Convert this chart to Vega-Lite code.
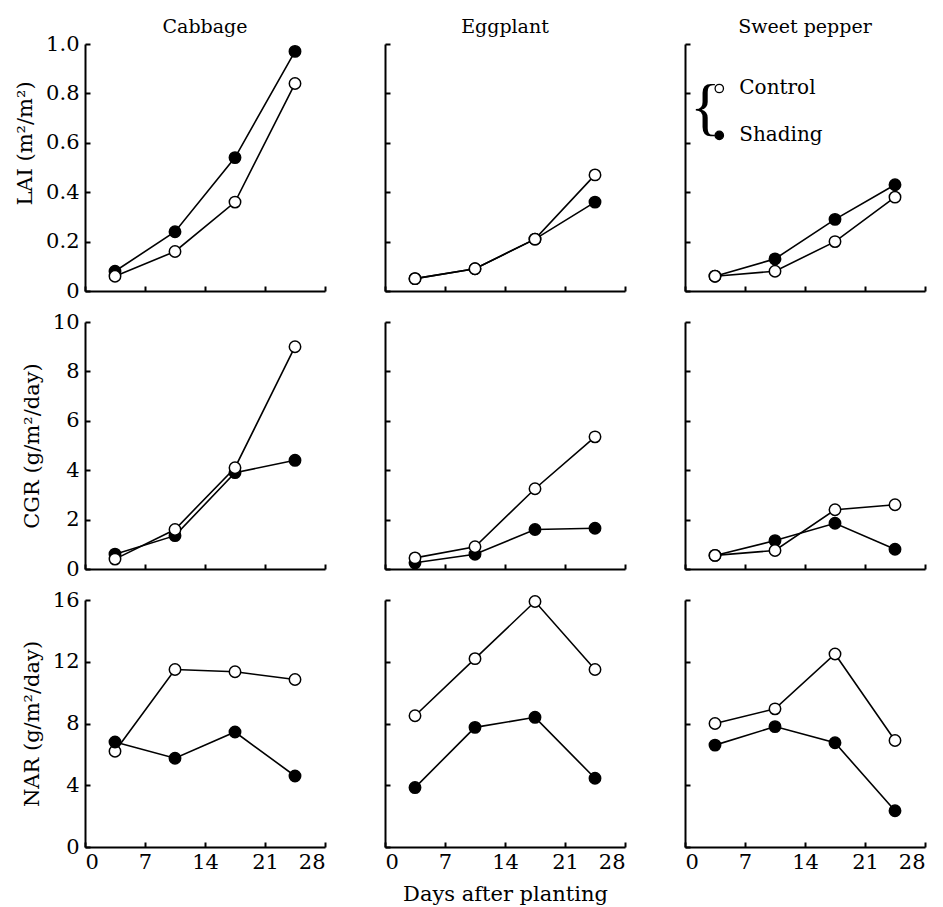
{
 "$schema": "https://vega.github.io/schema/vega-lite/v6.json",
 "background": "white",
 "padding": {"left": 14, "top": 18, "right": 4, "bottom": 2},
 "config": {
  "font": "DejaVu Serif",
  "view": {"stroke": null},
  "axis": {"domainColor": "black", "domainWidth": 2, "tickColor": "black", "tickWidth": 2, "tickSize": -5, "grid": false, "labelFont": "DejaVu Serif", "labelFontSize": 21, "labelColor": "black", "titleFont": "DejaVu Serif", "titleFontSize": 21, "titleFontWeight": "normal", "titleColor": "black"},
  "axisX": {"labelPadding": 9, "titlePadding": 11},
  "axisY": {"labelPadding": 11, "titlePadding": 10},
  "title": {"font": "DejaVu Serif", "fontSize": 19, "fontWeight": "normal", "color": "black", "offset": 6}
 },
 "datasets": {
  "growth": [
   {"crop": "Cabbage", "metric": "LAI", "treatment": "Shading", "day": 3.5, "value": 0.08},
   {"crop": "Cabbage", "metric": "LAI", "treatment": "Shading", "day": 10.5, "value": 0.24},
   {"crop": "Cabbage", "metric": "LAI", "treatment": "Shading", "day": 17.5, "value": 0.54},
   {"crop": "Cabbage", "metric": "LAI", "treatment": "Shading", "day": 24.5, "value": 0.97},
   {"crop": "Cabbage", "metric": "LAI", "treatment": "Control", "day": 3.5, "value": 0.06},
   {"crop": "Cabbage", "metric": "LAI", "treatment": "Control", "day": 10.5, "value": 0.16},
   {"crop": "Cabbage", "metric": "LAI", "treatment": "Control", "day": 17.5, "value": 0.36},
   {"crop": "Cabbage", "metric": "LAI", "treatment": "Control", "day": 24.5, "value": 0.84},
   {"crop": "Eggplant", "metric": "LAI", "treatment": "Shading", "day": 3.5, "value": 0.05},
   {"crop": "Eggplant", "metric": "LAI", "treatment": "Shading", "day": 10.5, "value": 0.09},
   {"crop": "Eggplant", "metric": "LAI", "treatment": "Shading", "day": 17.5, "value": 0.21},
   {"crop": "Eggplant", "metric": "LAI", "treatment": "Shading", "day": 24.5, "value": 0.36},
   {"crop": "Eggplant", "metric": "LAI", "treatment": "Control", "day": 3.5, "value": 0.05},
   {"crop": "Eggplant", "metric": "LAI", "treatment": "Control", "day": 10.5, "value": 0.09},
   {"crop": "Eggplant", "metric": "LAI", "treatment": "Control", "day": 17.5, "value": 0.21},
   {"crop": "Eggplant", "metric": "LAI", "treatment": "Control", "day": 24.5, "value": 0.47},
   {"crop": "Sweet pepper", "metric": "LAI", "treatment": "Shading", "day": 3.5, "value": 0.06},
   {"crop": "Sweet pepper", "metric": "LAI", "treatment": "Shading", "day": 10.5, "value": 0.13},
   {"crop": "Sweet pepper", "metric": "LAI", "treatment": "Shading", "day": 17.5, "value": 0.29},
   {"crop": "Sweet pepper", "metric": "LAI", "treatment": "Shading", "day": 24.5, "value": 0.43},
   {"crop": "Sweet pepper", "metric": "LAI", "treatment": "Control", "day": 3.5, "value": 0.06},
   {"crop": "Sweet pepper", "metric": "LAI", "treatment": "Control", "day": 10.5, "value": 0.08},
   {"crop": "Sweet pepper", "metric": "LAI", "treatment": "Control", "day": 17.5, "value": 0.2},
   {"crop": "Sweet pepper", "metric": "LAI", "treatment": "Control", "day": 24.5, "value": 0.38},
   {"crop": "Cabbage", "metric": "CGR", "treatment": "Shading", "day": 3.5, "value": 0.6},
   {"crop": "Cabbage", "metric": "CGR", "treatment": "Shading", "day": 10.5, "value": 1.35},
   {"crop": "Cabbage", "metric": "CGR", "treatment": "Shading", "day": 17.5, "value": 3.9},
   {"crop": "Cabbage", "metric": "CGR", "treatment": "Shading", "day": 24.5, "value": 4.4},
   {"crop": "Cabbage", "metric": "CGR", "treatment": "Control", "day": 3.5, "value": 0.4},
   {"crop": "Cabbage", "metric": "CGR", "treatment": "Control", "day": 10.5, "value": 1.6},
   {"crop": "Cabbage", "metric": "CGR", "treatment": "Control", "day": 17.5, "value": 4.1},
   {"crop": "Cabbage", "metric": "CGR", "treatment": "Control", "day": 24.5, "value": 9.0},
   {"crop": "Eggplant", "metric": "CGR", "treatment": "Shading", "day": 3.5, "value": 0.25},
   {"crop": "Eggplant", "metric": "CGR", "treatment": "Shading", "day": 10.5, "value": 0.6},
   {"crop": "Eggplant", "metric": "CGR", "treatment": "Shading", "day": 17.5, "value": 1.6},
   {"crop": "Eggplant", "metric": "CGR", "treatment": "Shading", "day": 24.5, "value": 1.65},
   {"crop": "Eggplant", "metric": "CGR", "treatment": "Control", "day": 3.5, "value": 0.45},
   {"crop": "Eggplant", "metric": "CGR", "treatment": "Control", "day": 10.5, "value": 0.9},
   {"crop": "Eggplant", "metric": "CGR", "treatment": "Control", "day": 17.5, "value": 3.25},
   {"crop": "Eggplant", "metric": "CGR", "treatment": "Control", "day": 24.5, "value": 5.35},
   {"crop": "Sweet pepper", "metric": "CGR", "treatment": "Shading", "day": 3.5, "value": 0.55},
   {"crop": "Sweet pepper", "metric": "CGR", "treatment": "Shading", "day": 10.5, "value": 1.15},
   {"crop": "Sweet pepper", "metric": "CGR", "treatment": "Shading", "day": 17.5, "value": 1.85},
   {"crop": "Sweet pepper", "metric": "CGR", "treatment": "Shading", "day": 24.5, "value": 0.8},
   {"crop": "Sweet pepper", "metric": "CGR", "treatment": "Control", "day": 3.5, "value": 0.55},
   {"crop": "Sweet pepper", "metric": "CGR", "treatment": "Control", "day": 10.5, "value": 0.75},
   {"crop": "Sweet pepper", "metric": "CGR", "treatment": "Control", "day": 17.5, "value": 2.4},
   {"crop": "Sweet pepper", "metric": "CGR", "treatment": "Control", "day": 24.5, "value": 2.6},
   {"crop": "Cabbage", "metric": "NAR", "treatment": "Control", "day": 3.5, "value": 6.2},
   {"crop": "Cabbage", "metric": "NAR", "treatment": "Control", "day": 10.5, "value": 11.5},
   {"crop": "Cabbage", "metric": "NAR", "treatment": "Control", "day": 17.5, "value": 11.35},
   {"crop": "Cabbage", "metric": "NAR", "treatment": "Control", "day": 24.5, "value": 10.85},
   {"crop": "Cabbage", "metric": "NAR", "treatment": "Shading", "day": 3.5, "value": 6.8},
   {"crop": "Cabbage", "metric": "NAR", "treatment": "Shading", "day": 10.5, "value": 5.75},
   {"crop": "Cabbage", "metric": "NAR", "treatment": "Shading", "day": 17.5, "value": 7.45},
   {"crop": "Cabbage", "metric": "NAR", "treatment": "Shading", "day": 24.5, "value": 4.6},
   {"crop": "Eggplant", "metric": "NAR", "treatment": "Control", "day": 3.5, "value": 8.5},
   {"crop": "Eggplant", "metric": "NAR", "treatment": "Control", "day": 10.5, "value": 12.2},
   {"crop": "Eggplant", "metric": "NAR", "treatment": "Control", "day": 17.5, "value": 15.9},
   {"crop": "Eggplant", "metric": "NAR", "treatment": "Control", "day": 24.5, "value": 11.5},
   {"crop": "Eggplant", "metric": "NAR", "treatment": "Shading", "day": 3.5, "value": 3.85},
   {"crop": "Eggplant", "metric": "NAR", "treatment": "Shading", "day": 10.5, "value": 7.75},
   {"crop": "Eggplant", "metric": "NAR", "treatment": "Shading", "day": 17.5, "value": 8.4},
   {"crop": "Eggplant", "metric": "NAR", "treatment": "Shading", "day": 24.5, "value": 4.45},
   {"crop": "Sweet pepper", "metric": "NAR", "treatment": "Control", "day": 3.5, "value": 8.0},
   {"crop": "Sweet pepper", "metric": "NAR", "treatment": "Control", "day": 10.5, "value": 8.95},
   {"crop": "Sweet pepper", "metric": "NAR", "treatment": "Control", "day": 17.5, "value": 12.5},
   {"crop": "Sweet pepper", "metric": "NAR", "treatment": "Control", "day": 24.5, "value": 6.9},
   {"crop": "Sweet pepper", "metric": "NAR", "treatment": "Shading", "day": 3.5, "value": 6.6},
   {"crop": "Sweet pepper", "metric": "NAR", "treatment": "Shading", "day": 10.5, "value": 7.8},
   {"crop": "Sweet pepper", "metric": "NAR", "treatment": "Shading", "day": 17.5, "value": 6.75},
   {"crop": "Sweet pepper", "metric": "NAR", "treatment": "Shading", "day": 24.5, "value": 2.35}
  ],
  "key": [
   {"treatment": "Control", "label": "Control", "day": 4.0, "value": 0.82},
   {"treatment": "Shading", "label": "Shading", "day": 4.0, "value": 0.63}
  ]
 },
 "columns": 3,
 "spacing": {"row": 31, "column": 60},
 "bounds": "flush",
 "concat": [
  {
   "width": 240, "height": 247, "title": {"text": "Cabbage", "offset": -4},
   "data": {"name": "growth"},
   "transform": [{"filter": "datum.crop == 'Cabbage' && datum.metric == 'LAI'"}],
   "encoding": {
    "x": {"field": "day", "type": "quantitative", "scale": {"domain": [0, 28], "nice": false}, "axis": {"values": [0, 7, 14, 21, 28], "labels": false, "title": null}},
    "y": {"field": "value", "type": "quantitative", "scale": {"domain": [0, 1], "nice": false}, "axis": {"values": [0, 0.2, 0.4, 0.6, 0.8, 1], "labelExpr": "datum.value == 0 ? '0' : format(datum.value, '.1f')", "title": "LAI (m²/m²)", "titleY": 99}}
   },
   "layer": [
    {"mark": {"type": "line", "color": "black", "strokeWidth": 1.6}, "encoding": {"detail": {"field": "treatment"}}},
    {"mark": {"type": "point", "shape": "circle", "size": 130, "filled": true, "stroke": "black", "strokeWidth": 1.5, "opacity": 1}, "encoding": {"fill": {"field": "treatment", "type": "nominal", "scale": {"domain": ["Control", "Shading"], "range": ["white", "black"]}, "legend": null}}}
   ]
  },
  {
   "width": 240, "height": 247, "title": "Eggplant",
   "data": {"name": "growth"},
   "transform": [{"filter": "datum.crop == 'Eggplant' && datum.metric == 'LAI'"}],
   "encoding": {
    "x": {"field": "day", "type": "quantitative", "scale": {"domain": [0, 28], "nice": false}, "axis": {"values": [0, 7, 14, 21, 28], "labels": false, "title": null}},
    "y": {"field": "value", "type": "quantitative", "scale": {"domain": [0, 1], "nice": false}, "axis": {"values": [0, 0.2, 0.4, 0.6, 0.8, 1], "labels": false, "title": null}}
   },
   "layer": [
    {"mark": {"type": "line", "color": "black", "strokeWidth": 1.6}, "encoding": {"detail": {"field": "treatment"}}},
    {"mark": {"type": "point", "shape": "circle", "size": 130, "filled": true, "stroke": "black", "strokeWidth": 1.5, "opacity": 1}, "encoding": {"fill": {"field": "treatment", "type": "nominal", "scale": {"domain": ["Control", "Shading"], "range": ["white", "black"]}, "legend": null}}}
   ]
  },
  {
   "width": 240, "height": 247, "title": "Sweet pepper",
   "encoding": {
    "x": {"field": "day", "type": "quantitative", "scale": {"domain": [0, 28], "nice": false}, "axis": {"values": [0, 7, 14, 21, 28], "labels": false, "title": null}},
    "y": {"field": "value", "type": "quantitative", "scale": {"domain": [0, 1], "nice": false}, "axis": {"values": [0, 0.2, 0.4, 0.6, 0.8, 1], "labels": false, "title": null}}
   },
   "layer": [
    {"data": {"name": "growth"}, "transform": [{"filter": "datum.crop == 'Sweet pepper' && datum.metric == 'LAI'"}], "mark": {"type": "line", "color": "black", "strokeWidth": 1.6}, "encoding": {"detail": {"field": "treatment"}}},
    {"data": {"name": "growth"}, "transform": [{"filter": "datum.crop == 'Sweet pepper' && datum.metric == 'LAI'"}], "mark": {"type": "point", "shape": "circle", "size": 130, "filled": true, "stroke": "black", "strokeWidth": 1.5, "opacity": 1}, "encoding": {"fill": {"field": "treatment", "type": "nominal", "scale": {"domain": ["Control", "Shading"], "range": ["white", "black"]}, "legend": null}}},
    {"data": {"name": "key"}, "mark": {"type": "point", "shape": "circle", "size": 70, "filled": true, "stroke": "black", "strokeWidth": 1.3, "opacity": 1}, "encoding": {"fill": {"field": "treatment", "type": "nominal", "scale": {"domain": ["Control", "Shading"], "range": ["white", "black"]}, "legend": null}}},
    {"data": {"name": "key"}, "mark": {"type": "text", "align": "left", "baseline": "middle", "dx": 20, "fontSize": 20, "font": "DejaVu Serif", "color": "black"}, "encoding": {"text": {"field": "label"}}},
    {"data": {"values": [{"label": "{", "day": 4.0, "value": 0.735}]}, "mark": {"type": "text", "align": "center", "baseline": "middle", "dx": -14, "fontSize": 64, "font": "Liberation Serif", "color": "black"}, "encoding": {"text": {"field": "label"}}}
   ]
  },
  {
   "width": 240, "height": 247,
   "data": {"name": "growth"},
   "transform": [{"filter": "datum.crop == 'Cabbage' && datum.metric == 'CGR'"}],
   "encoding": {
    "x": {"field": "day", "type": "quantitative", "scale": {"domain": [0, 28], "nice": false}, "axis": {"values": [0, 7, 14, 21, 28], "labels": false, "title": null}},
    "y": {"field": "value", "type": "quantitative", "scale": {"domain": [0, 10], "nice": false}, "axis": {"values": [0, 2, 4, 6, 8, 10], "title": "CGR (g/m²/day)"}}
   },
   "layer": [
    {"mark": {"type": "line", "color": "black", "strokeWidth": 1.6}, "encoding": {"detail": {"field": "treatment"}}},
    {"mark": {"type": "point", "shape": "circle", "size": 130, "filled": true, "stroke": "black", "strokeWidth": 1.5, "opacity": 1}, "encoding": {"fill": {"field": "treatment", "type": "nominal", "scale": {"domain": ["Control", "Shading"], "range": ["white", "black"]}, "legend": null}}}
   ]
  },
  {
   "width": 240, "height": 247,
   "data": {"name": "growth"},
   "transform": [{"filter": "datum.crop == 'Eggplant' && datum.metric == 'CGR'"}],
   "encoding": {
    "x": {"field": "day", "type": "quantitative", "scale": {"domain": [0, 28], "nice": false}, "axis": {"values": [0, 7, 14, 21, 28], "labels": false, "title": null}},
    "y": {"field": "value", "type": "quantitative", "scale": {"domain": [0, 10], "nice": false}, "axis": {"values": [0, 2, 4, 6, 8, 10], "labels": false, "title": null}}
   },
   "layer": [
    {"mark": {"type": "line", "color": "black", "strokeWidth": 1.6}, "encoding": {"detail": {"field": "treatment"}}},
    {"mark": {"type": "point", "shape": "circle", "size": 130, "filled": true, "stroke": "black", "strokeWidth": 1.5, "opacity": 1}, "encoding": {"fill": {"field": "treatment", "type": "nominal", "scale": {"domain": ["Control", "Shading"], "range": ["white", "black"]}, "legend": null}}}
   ]
  },
  {
   "width": 240, "height": 247,
   "data": {"name": "growth"},
   "transform": [{"filter": "datum.crop == 'Sweet pepper' && datum.metric == 'CGR'"}],
   "encoding": {
    "x": {"field": "day", "type": "quantitative", "scale": {"domain": [0, 28], "nice": false}, "axis": {"values": [0, 7, 14, 21, 28], "labels": false, "title": null}},
    "y": {"field": "value", "type": "quantitative", "scale": {"domain": [0, 10], "nice": false}, "axis": {"values": [0, 2, 4, 6, 8, 10], "labels": false, "title": null}}
   },
   "layer": [
    {"mark": {"type": "line", "color": "black", "strokeWidth": 1.6}, "encoding": {"detail": {"field": "treatment"}}},
    {"mark": {"type": "point", "shape": "circle", "size": 130, "filled": true, "stroke": "black", "strokeWidth": 1.5, "opacity": 1}, "encoding": {"fill": {"field": "treatment", "type": "nominal", "scale": {"domain": ["Control", "Shading"], "range": ["white", "black"]}, "legend": null}}}
   ]
  },
  {
   "width": 240, "height": 247,
   "data": {"name": "growth"},
   "transform": [{"filter": "datum.crop == 'Cabbage' && datum.metric == 'NAR'"}],
   "encoding": {
    "x": {"field": "day", "type": "quantitative", "scale": {"domain": [0, 28], "nice": false}, "axis": {"values": [0, 7, 14, 21, 28], "title": null}},
    "y": {"field": "value", "type": "quantitative", "scale": {"domain": [0, 16], "nice": false}, "axis": {"values": [0, 4, 8, 12, 16], "title": "NAR (g/m²/day)"}}
   },
   "layer": [
    {"mark": {"type": "line", "color": "black", "strokeWidth": 1.6}, "encoding": {"detail": {"field": "treatment"}}},
    {"mark": {"type": "point", "shape": "circle", "size": 130, "filled": true, "stroke": "black", "strokeWidth": 1.5, "opacity": 1}, "encoding": {"fill": {"field": "treatment", "type": "nominal", "scale": {"domain": ["Control", "Shading"], "range": ["white", "black"]}, "legend": null}}}
   ]
  },
  {
   "width": 240, "height": 247,
   "data": {"name": "growth"},
   "transform": [{"filter": "datum.crop == 'Eggplant' && datum.metric == 'NAR'"}],
   "encoding": {
    "x": {"field": "day", "type": "quantitative", "scale": {"domain": [0, 28], "nice": false}, "axis": {"values": [0, 7, 14, 21, 28], "title": "Days after planting"}},
    "y": {"field": "value", "type": "quantitative", "scale": {"domain": [0, 16], "nice": false}, "axis": {"values": [0, 4, 8, 12, 16], "labels": false, "title": null}}
   },
   "layer": [
    {"mark": {"type": "line", "color": "black", "strokeWidth": 1.6}, "encoding": {"detail": {"field": "treatment"}}},
    {"mark": {"type": "point", "shape": "circle", "size": 130, "filled": true, "stroke": "black", "strokeWidth": 1.5, "opacity": 1}, "encoding": {"fill": {"field": "treatment", "type": "nominal", "scale": {"domain": ["Control", "Shading"], "range": ["white", "black"]}, "legend": null}}}
   ]
  },
  {
   "width": 240, "height": 247,
   "data": {"name": "growth"},
   "transform": [{"filter": "datum.crop == 'Sweet pepper' && datum.metric == 'NAR'"}],
   "encoding": {
    "x": {"field": "day", "type": "quantitative", "scale": {"domain": [0, 28], "nice": false}, "axis": {"values": [0, 7, 14, 21, 28], "title": null}},
    "y": {"field": "value", "type": "quantitative", "scale": {"domain": [0, 16], "nice": false}, "axis": {"values": [0, 4, 8, 12, 16], "labels": false, "title": null}}
   },
   "layer": [
    {"mark": {"type": "line", "color": "black", "strokeWidth": 1.6}, "encoding": {"detail": {"field": "treatment"}}},
    {"mark": {"type": "point", "shape": "circle", "size": 130, "filled": true, "stroke": "black", "strokeWidth": 1.5, "opacity": 1}, "encoding": {"fill": {"field": "treatment", "type": "nominal", "scale": {"domain": ["Control", "Shading"], "range": ["white", "black"]}, "legend": null}}}
   ]
  }
 ]
}
